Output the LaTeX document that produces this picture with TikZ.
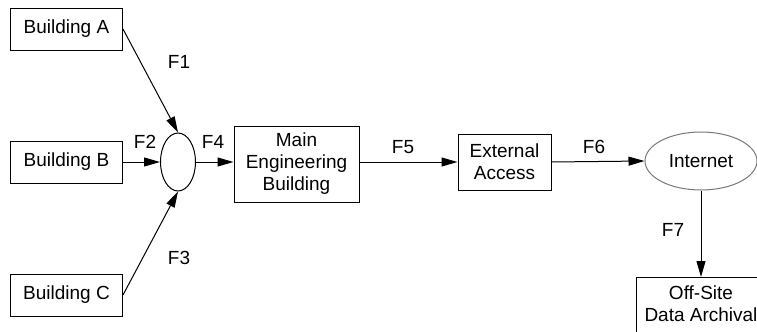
\documentclass[tikz,border=0pt]{standalone}
\usepackage{fontspec}
\setmainfont{Liberation Sans}
\usetikzlibrary{arrows.meta,shapes.geometric}
\definecolor{rimcol}{RGB}{120,120,120}

\tikzset{
  box/.style={draw, line width=0.5pt, align=center, inner sep=0pt},
  hub/.style={draw, ellipse, line width=0.5pt, inner sep=0pt},
  flow/.style={-{Triangle[length=8pt,width=4.5pt]}, line width=0.5pt},
  flowlbl/.style={inner sep=0pt}
}

\begin{document}
\begin{tikzpicture}[x=0.5pt,y=-0.5pt,font=\fontsize{9.5pt}{11pt}\selectfont]
  \useasboundingbox (0,0) rectangle (757,332);
  % sources
  \node[box, minimum width=56pt, minimum height=21pt] (bA) at (66.5,29) {Building A};
  \node[box, minimum width=56pt, minimum height=21pt] (bB) at (66.5,162) {Building B};
  \node[box, minimum width=56pt, minimum height=21pt] (bC) at (66.5,295) {Building C};
  \node[hub, minimum width=17.5pt, minimum height=29pt] (junc) at (178,162) {};
  % main chain
  \node[box, minimum width=62.5pt, minimum height=38pt] (meb) at (296.5,164) {Main\\Engineering\\Building};
  \node[box, minimum width=46.5pt, minimum height=28pt] (ext) at (504.5,162) {External\\Access};
  \node[hub, draw=rimcol, minimum width=56pt, minimum height=29pt] (net) at (701,161) {Internet};
  \node[box, anchor=north, minimum width=65pt, inner ysep=4pt, text depth=16pt] (arch) at (701,277) {Off-Site\\Data Archival};
  % flows
  \draw[flow] (bA.east) -- (junc.north);
  \draw[flow] (bB.east) -- (junc.west);
  \draw[flow] (bC.east) -- (junc.south);
  \draw[flow] (junc.east) -- (meb.west |- junc.east);
  \draw[flow] (meb.east |- ext.west) -- (ext.west);
  \draw[flow] (ext.east) -- (net.west);
  \draw[flow] (net.south) -- (arch.north);
  \node[flowlbl] (f1) at (179,62) {F1};
  \node[flowlbl] (f2) at (145,142) {F2};
  \node[flowlbl] (f3) at (179,258) {F3};
  \node[flowlbl] (f4) at (213,142) {F4};
  \node[flowlbl] (f5) at (403,147) {F5};
  \node[flowlbl] (f6) at (594,147) {F6};
  \node[flowlbl] (f7) at (673,230) {F7};
\end{tikzpicture}
\end{document}
